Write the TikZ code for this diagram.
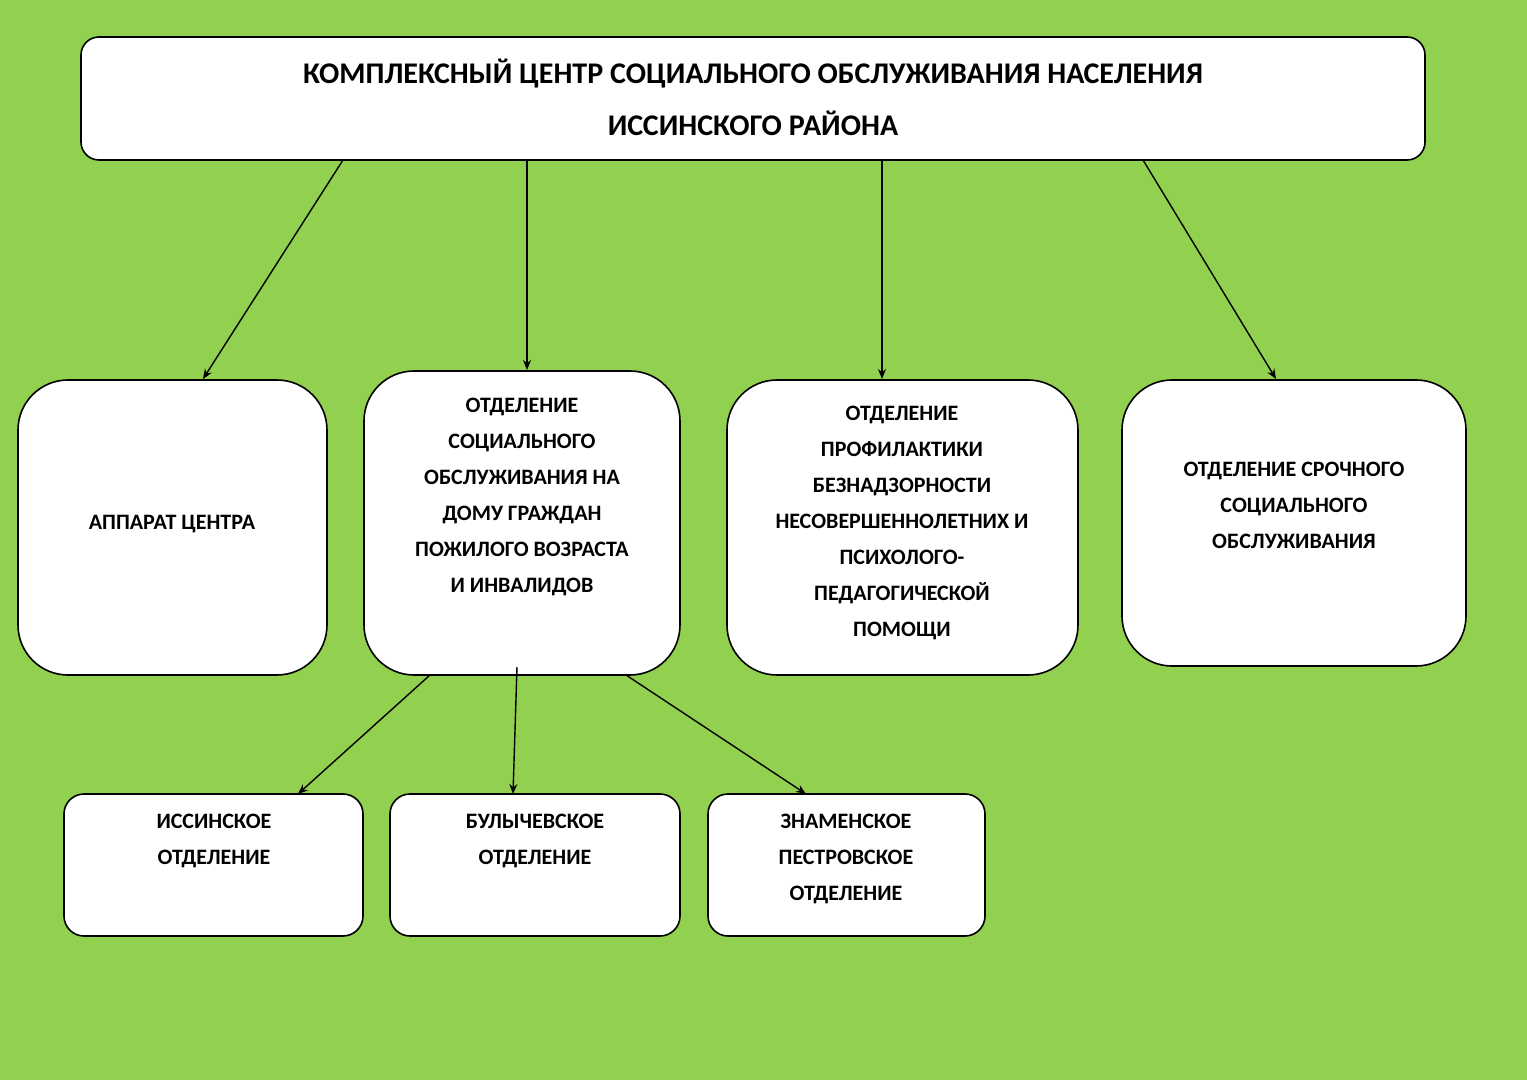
\documentclass[tikz,border=0pt]{standalone}
\usepackage{fontspec}
\setmainfont{Carlito}
\usetikzlibrary{arrows.meta}
\definecolor{bg}{RGB}{146,208,80}
\begin{document}
\begin{tikzpicture}[x=0.5pt,y=-0.5pt,
  box/.style={draw=black,line width=0.8pt,fill=white,rounded corners=#1},
  txt/.style={align=center,font=\bfseries\fontsize{11}{18}\selectfont},
  arr/.style={-{Stealth[length=5pt,width=4pt]},line width=0.7pt}]
\fill[bg] (0,0) rectangle (1527,1080);
\useasboundingbox (0,0) rectangle (1527,1080);
\draw[box=9pt] (81,37) rectangle (1425,160);
\node[align=center,font=\bfseries\fontsize{15}{26}\selectfont] (title) at (753,97) {КОМПЛЕКСНЫЙ ЦЕНТР СОЦИАЛЬНОГО ОБСЛУЖИВАНИЯ НАСЕЛЕНИЯ\\ИССИНСКОГО РАЙОНА};
\draw[box=25pt] (18,380) rectangle (327,675);
\node[txt] (a) at (172,524) {АППАРАТ ЦЕНТРА};
\draw[box=25pt] (364,371) rectangle (680,675);
\node[txt] (b) at (522,497) {ОТДЕЛЕНИЕ\\СОЦИАЛЬНОГО\\ОБСЛУЖИВАНИЯ НА\\ДОМУ ГРАЖДАН\\ПОЖИЛОГО ВОЗРАСТА\\И ИНВАЛИДОВ};
\draw[box=25pt] (727,380) rectangle (1078,675);
\node[txt] (c) at (902,523) {ОТДЕЛЕНИЕ\\ПРОФИЛАКТИКИ\\БЕЗНАДЗОРНОСТИ\\НЕСОВЕРШЕННОЛЕТНИХ И\\ПСИХОЛОГО-\\ПЕДАГОГИЧЕСКОЙ\\ПОМОЩИ};
\draw[box=25pt] (1122,380) rectangle (1466,666);
\node[txt] (d) at (1294,505) {ОТДЕЛЕНИЕ СРОЧНОГО\\СОЦИАЛЬНОГО\\ОБСЛУЖИВАНИЯ};
\draw[box=10pt] (64,794) rectangle (363,936);
\node[txt] (e) at (214,841) {ИССИНСКОЕ\\ОТДЕЛЕНИЕ};
\draw[box=10pt] (390,794) rectangle (680,936);
\node[txt] (f) at (535,841) {БУЛЫЧЕВСКОЕ\\ОТДЕЛЕНИЕ};
\draw[box=10pt] (708,794) rectangle (985,936);
\node[txt] (g) at (846,859) {ЗНАМЕНСКОЕ\\ПЕСТРОВСКОЕ\\ОТДЕЛЕНИЕ};
\coordinate (t1) at (343,160); \coordinate (h1) at (203,379);
\coordinate (t2) at (527,160); \coordinate (h2) at (527,370);
\coordinate (t3) at (882,160); \coordinate (h3) at (882,379);
\coordinate (t4) at (1143,160); \coordinate (h4) at (1276,379);
\coordinate (b1) at (430,675); \coordinate (k1) at (298,794);
\coordinate (b2) at (517,667); \coordinate (k2) at (513,794);
\coordinate (b3) at (626,675); \coordinate (k3) at (806,794);
\foreach \s/\e in {t1/h1,t2/h2,t3/h3,t4/h4,b1/k1,b2/k2,b3/k3}
  \draw[arr] (\s) -- (\e);
\end{tikzpicture}
\end{document}
